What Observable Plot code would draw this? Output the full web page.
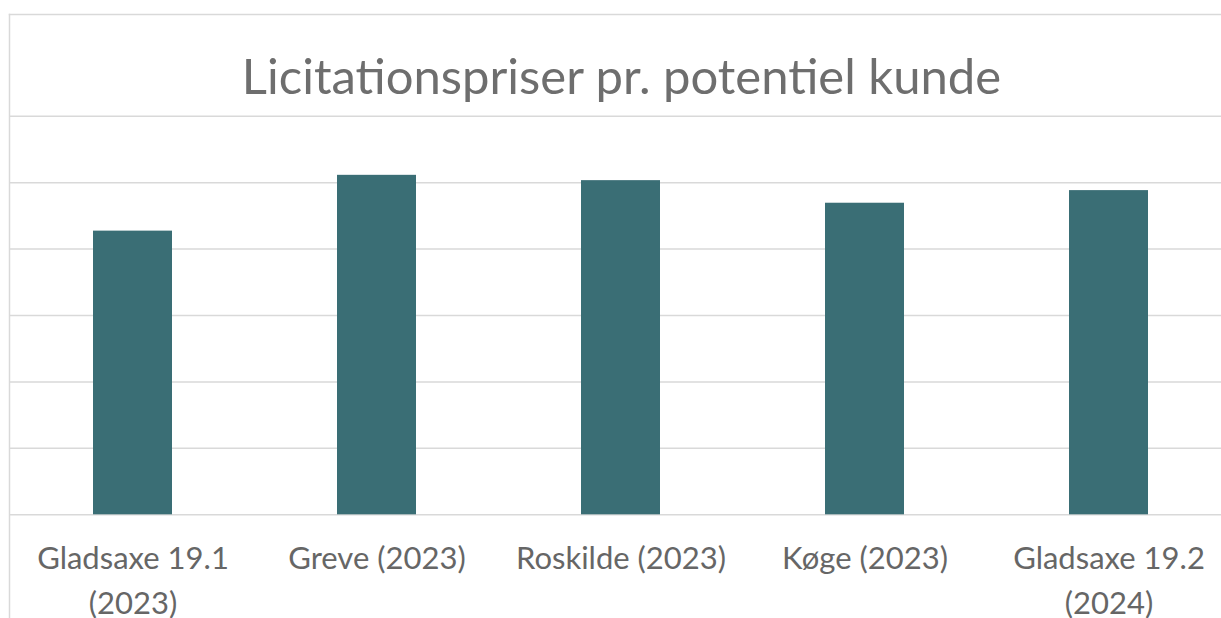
<!DOCTYPE html>
<html>
<head>
<meta charset="utf-8">
<script src="https://cdn.jsdelivr.net/npm/d3@7"></script>
<script src="https://cdn.jsdelivr.net/npm/@observablehq/plot@0.6"></script>
<style>
  html, body { margin: 0; padding: 0; background: #fff; }
  #chart svg { display: block; }
</style>
</head>
<body>
<div id="chart"></div>
<script>
const title = "Licitationspriser pr. potentiel kunde";
const categories = ["Gladsaxe 19.1 (2023)", "Greve (2023)", "Roskilde (2023)", "Køge (2023)", "Gladsaxe 19.2 (2024)"];
const tickLabels = ["Gladsaxe 19.1\n(2023)", "Greve (2023)", "Roskilde (2023)", "Køge (2023)", "Gladsaxe 19.2\n(2024)"];
const values = [4.27, 5.11, 5.03, 4.69, 4.88];
const gridValues = [0, 1, 2, 3, 4, 5, 6];

const data = categories.map((c, i) => ({cat: c, value: values[i], label: tickLabels[i]}));

const font = "Lato, 'Open Sans', sans-serif";
const grey = "#666666";

const chart = Plot.plot({
  width: 1221,
  height: 618,
  marginLeft: 9,
  marginTop: 14,
  marginRight: 0,
  marginBottom: 0,
  style: {fontFamily: font, background: "#fff"},
  x: {domain: categories, range: [9.25, 1231.75], paddingInner: 0.675, paddingOuter: 0.3375, axis: null},
  y: {domain: [0, 6], range: [514.3, 115.7], axis: null},
  marks: [
    Plot.frame({anchor: "top", stroke: "#d9d9d9", strokeWidth: 1.5}),
    Plot.frame({anchor: "left", stroke: "#d9d9d9", strokeWidth: 1.5}),
    Plot.ruleY(gridValues, {y: d => d, stroke: "#d9d9d9", strokeWidth: 1.5, strokeOpacity: 1}),
    Plot.barY(data, {x: "cat", y: "value", fill: "#3a6e75"}),
    Plot.text(data, {x: "cat", y: 0, text: "label", lineAnchor: "top", dy: 22, fontSize: 31, lineHeight: 1.45, fill: grey}),
    Plot.text([title], {frameAnchor: "top", lineAnchor: "middle", dy: 64, dx: 6, fontSize: 49, fill: "#6e6e6e"})
  ]
});
document.getElementById("chart").appendChild(chart);
</script>
</body>
</html>
